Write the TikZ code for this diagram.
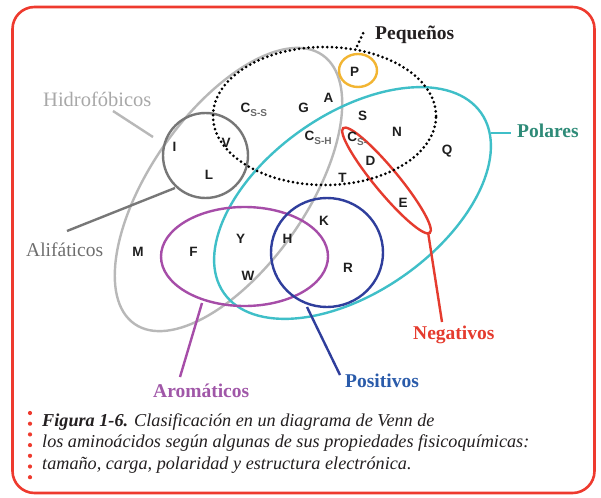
\documentclass[tikz,border=0pt]{standalone}
\usepackage{fontspec}
\setmainfont{Liberation Serif}
\newfontfamily\lettersf{Liberation Sans}
\definecolor{framered}{HTML}{EE3A2E}
\definecolor{hidgray}{HTML}{B8B8B8}
\definecolor{aligray}{HTML}{777777}
\definecolor{polcyan}{HTML}{3FBFC8}
\definecolor{aropurple}{HTML}{A64DA8}
\definecolor{posblue}{HTML}{2F3E9C}
\definecolor{negred}{HTML}{E53B2E}
\definecolor{proyellow}{HTML}{F2B532}
\definecolor{hidtext}{HTML}{A8A8A8}
\definecolor{alitext}{HTML}{6E6E6E}
\definecolor{poltext}{HTML}{2E8B78}
\definecolor{postext}{HTML}{2A5BAA}
\definecolor{arotext}{HTML}{A057A8}
\definecolor{lettertext}{HTML}{1E1E1E}
\definecolor{subtext}{HTML}{6A6A6A}
\definecolor{captext}{HTML}{231F20}
\newcommand{\subsc}[1]{{\fontsize{10}{10}\selectfont\color{subtext}\raisebox{-3.5pt}{#1}}}
\begin{document}
\begin{tikzpicture}[x=1pt,y=-1pt,
  ring/.style={line width=2.4pt},
  leader/.style={line width=2.4pt},
  aa/.style={font=\lettersf\bfseries\fontsize{13.5}{13.5}\selectfont, text=lettertext, inner sep=0pt},
  csub/.style={aa, anchor=base west},
  lab/.style={font=\fontsize{19.5}{20}\selectfont, inner sep=0pt, anchor=base west},
  blab/.style={lab, font=\fontsize{19.5}{20}\selectfont\bfseries},
  dots/.style={line width=3pt, line cap=round, dash pattern=on 0pt off 4.7pt},
  capdot/.style={circle, fill=framered, inner sep=0pt, minimum size=4.2pt}]
\useasboundingbox (0,0) rectangle (601,497);
\fill[white] (0,0) rectangle (601,497);
\draw[framered, line width=2.6pt, rounded corners=22pt] (12.5,7) rectangle (594.5,493);

% sets
\draw[hidgray, ring] (228.5,189.5) ellipse [x radius=164pt, y radius=78pt, rotate=55];
\draw[polcyan, ring] (352.5,203) ellipse [x radius=157pt, y radius=89pt, rotate=35];
\draw[aropurple, ring] (244.5,256.5) ellipse [x radius=83.5pt, y radius=49.5pt];
\draw[posblue, ring] (327,252.5) ellipse [x radius=56pt, y radius=54.5pt];
\draw[aligray, ring] (205.5,155.5) circle [radius=42.5pt];
\draw[negred, ring] (386.5,180.5) ellipse [x radius=68pt, y radius=12pt, rotate=-50.4];
\draw[proyellow, ring] (358,70.5) ellipse [x radius=19pt, y radius=16.5pt];
\draw[black, dots] (324.5,116) ellipse [x radius=111.5pt, y radius=69pt];

% leader end points
\coordinate (peqA) at (357,46);  \coordinate (peqB) at (365,29);
\coordinate (hidA) at (153,137); \coordinate (hidB) at (113,111);
\coordinate (aliA) at (175,188); \coordinate (aliB) at (67,231);
\coordinate (polA) at (491,133); \coordinate (polB) at (511,133);
\coordinate (negA) at (428,232); \coordinate (negB) at (442,322);
\coordinate (posA) at (307,307); \coordinate (posB) at (340,375);
\coordinate (aroA) at (202,303); \coordinate (aroB) at (180,377);

\draw[black, dots] (peqA) -- (peqB);
\draw[hidgray, leader] (hidA) -- (hidB);
\draw[aligray, leader] (aliA) -- (aliB);
\draw[polcyan, leader] (polA) -- (polB);
\draw[negred, leader] (negA) -- (negB);
\draw[posblue, leader] (posA) -- (posB);
\draw[aropurple, leader] (aroA) -- (aroB);

% labels
\node[blab, text=captext] (peq) at (375,40) {Pequeños};
\node[lab, font=\fontsize{20.5}{21}\selectfont, text=hidtext] (hid) at (43,107) {Hidrofóbicos};
\node[lab, text=alitext] (ali) at (26,256) {Alifáticos};
\node[blab, text=poltext] (pol) at (517,138) {Polares};
\node[blab, text=negred] (neg) at (413,339) {Negativos};
\node[blab, text=postext] (pos) at (345,387) {Positivos};
\node[blab, text=arotext] (aro) at (153,397) {Aromáticos};

% amino acids
\node[aa] (P) at (354.5,71.5) {P};
\node[aa] (A) at (328.5,97.5) {A};
\node[aa] (G) at (303.5,108) {G};
\node[aa] (S) at (362.5,116) {S};
\node[aa] (N) at (397,131.5) {N};
\node[aa] (D) at (370.5,161) {D};
\node[aa] (V) at (226,143) {V};
\node[aa] (I) at (174.5,147) {I};
\node[aa] (L) at (209,174.5) {L};
\node[aa] (T) at (342.5,177.5) {T};
\node[aa] (Q) at (447,151.5) {Q};
\node[aa] (E) at (403,202.5) {E};
\node[aa] (K) at (324,221) {K};
\node[aa] (H) at (287.5,239) {H};
\node[aa] (Y) at (240.5,239) {Y};
\node[aa] (W) at (248,276) {W};
\node[aa] (R) at (348,267.7) {R};
\node[aa] (F) at (193.5,252) {F};
\node[aa] (M) at (138,252) {M};
\node[csub] (Css) at (240.5,112.7) {C\subsc{S-S}};
\node[csub] (Csh) at (304.5,140.7) {C\subsc{S-H}};
\node[csub] (Csm) at (347.2,141.7) {C\subsc{S-}};

% caption
\foreach \k in {0,...,6} \node[capdot] (cd\k) at (30,{413+10.7*\k}) {};
\node[anchor=base west, inner sep=0pt, align=left, text=captext,
      font=\fontsize{18.2}{21.5}\selectfont\itshape] (cap) at (42,469)
  {\textbf{Figura 1-6.} Clasificación en un diagrama de Venn de\\
   los aminoácidos según algunas de sus propiedades fisicoquímicas:\\
   tamaño, carga, polaridad y estructura electrónica.};
\end{tikzpicture}
\end{document}
